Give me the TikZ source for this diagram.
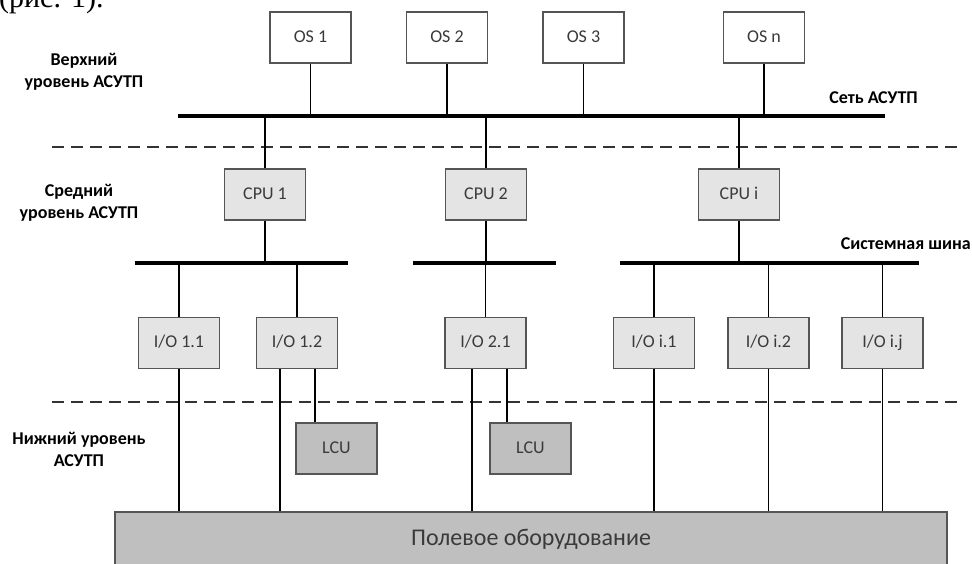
\documentclass[tikz,border=0pt]{standalone}
\usepackage{fontspec}
\setmainfont{Carlito}
\newfontfamily\timesfont{Liberation Serif}
\usetikzlibrary{positioning}

\definecolor{boxline}{HTML}{555555}
\definecolor{lightbox}{HTML}{E4E4E4}
\definecolor{darkbox}{HTML}{BFBFBF}
\definecolor{boxtext}{HTML}{3A3A3A}
\definecolor{dashcol}{HTML}{333333}

\tikzset{
  osbox/.style={draw=boxline, line width=1.6pt, fill=white, minimum width=81pt,
    minimum height=51pt, inner sep=0pt, text height=12.5pt, text depth=3.5pt,
    text=boxtext, font=\fontsize{18}{20}\selectfont},
  cpubox/.style={osbox, fill=lightbox},
  lcubox/.style={osbox, fill=darkbox},
  fieldbox/.style={osbox, fill=darkbox, minimum width=832pt, minimum height=54pt,
    text height=17pt, text depth=5pt, font=\fontsize{24}{26}\selectfont},
  bus/.style={line width=4.2pt},
  wire/.style={line width=1.8pt},
  levelline/.style={dashcol, line width=2.2pt, dash pattern=on 12pt off 7pt},
  lbl/.style={font=\bfseries\fontsize{18}{22}\selectfont, align=center, inner sep=0pt}
}

\begin{document}
\begin{tikzpicture}[x=1pt,y=-1pt]
  \useasboundingbox (0,0) rectangle (972,563);
  \node[anchor=base west, inner sep=0pt, font=\timesfont\fontsize{30}{30}\selectfont] (fig) at (-1,7) {(рис. 1).};

  % level borders
  \coordinate (lvA) at (52,147); \coordinate (lvAend) at (958,147);
  \coordinate (lvB) at (52,402); \coordinate (lvBend) at (958,402);
  \draw[levelline] (lvA) -- (lvAend);
  \draw[levelline] (lvB) -- (lvBend);

  % level names
  \node[lbl] (upper) at (84,72) {Верхний\\уровень АСУТП};
  \node[lbl] (middle) at (79,203) {Средний\\уровень АСУТП};
  \node[lbl] (lower) at (79,449) {Нижний уровень\\АСУТП};

  % operator stations and network
  \foreach \n/\x/\t in {os1/310.5/OS 1, os2/447/OS 2, os3/583.5/OS 3, osn/764/OS n}
    \node[osbox] (\n) at (\x,37.5) {\t};
  \coordinate (netL) at (178,116); \coordinate (netR) at (885,116);
  \draw[bus] (netL) -- (netR);
  \node[lbl, anchor=base east] (netname) at (918,103) {Сеть АСУТП};
  \foreach \n in {os1,os2,os3,osn} \draw[wire] (\n.south) -- (\n.south |- netL);

  % controllers
  \foreach \n/\x/\t in {cpu1/265/CPU 1, cpu2/486/CPU 2, cpui/739/CPU i}
    \node[cpubox] (\n) at (\x,194.5) {\t};
  \foreach \n in {cpu1,cpu2,cpui} \draw[wire] (\n.north) -- (\n.north |- netL);

  % system buses
  \coordinate (sbA) at (135,263); \coordinate (sbAend) at (348,263);
  \coordinate (sbB) at (413,263); \coordinate (sbBend) at (556,263);
  \coordinate (sbC) at (620,263); \coordinate (sbCend) at (919,263);
  \draw[bus] (sbA) -- (sbAend);
  \draw[bus] (sbB) -- (sbBend);
  \draw[bus] (sbC) -- (sbCend);
  \node[lbl, anchor=base east] (sysname) at (971,249) {Системная шина};
  \foreach \n in {cpu1,cpu2,cpui} \draw[wire] (\n.south) -- (\n.south |- sbA);

  % I/O modules
  \foreach \n/\x/\t in {io11/179/{I/O 1.1}, io12/297/{I/O 1.2}, io21/485.5/{I/O 2.1},
                        ioi1/654/{I/O i.1}, ioi2/768.5/{I/O i.2}, ioij/882.5/{I/O i.j}}
    \node[cpubox] (\n) at (\x,343) {\t};
  \foreach \n in {io11,io12,io21,ioi1,ioi2,ioij} \draw[wire] (\n.north) -- (\n.north |- sbA);

  % local control units and field level
  \node[lcubox] (lcu1) at (336.5,448.5) {LCU};
  \node[lcubox] (lcu2) at (530.5,448.5) {LCU};
  \node[fieldbox] (field) at (531,539) {Полевое оборудование};

  \foreach \n in {io11,ioi1,ioi2,ioij} \draw[wire] (\n.south) -- (\n.south |- field.north);
  \draw[wire] ([xshift=-17pt]io12.south) -- ([xshift=-17pt]io12.south |- field.north);
  \draw[wire] ([xshift=18pt]io12.south) -- ([xshift=18pt]io12.south |- lcu1.north);
  \draw[wire] ([xshift=-13.5pt]io21.south) -- ([xshift=-13.5pt]io21.south |- field.north);
  \draw[wire] ([xshift=21.5pt]io21.south) -- ([xshift=21.5pt]io21.south |- lcu2.north);
\end{tikzpicture}
\end{document}
